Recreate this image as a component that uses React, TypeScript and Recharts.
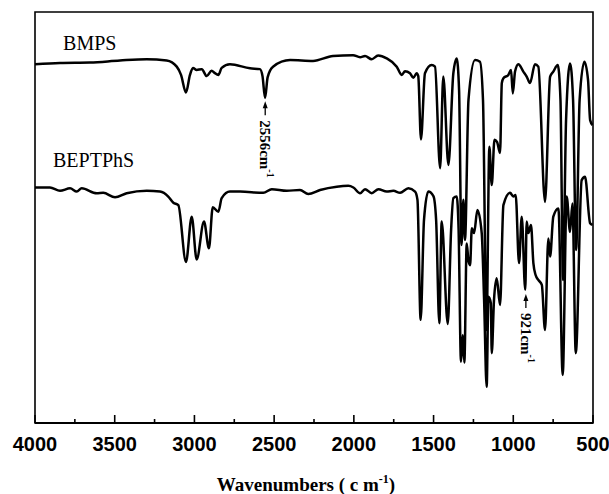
import { Label, Line, LineChart, ReferenceArea, ReferenceDot, XAxis, YAxis } from "recharts";

// wavenumber (cm-1) and transmittance (a.u.)
const bmpsWn = [
  4000, 3843, 3655, 3467, 3299, 3174, 3111, 3084, 3053, 3028, 3009, 2986, 2954, 2923, 2892, 2874,
  2850, 2829, 2777, 2651, 2589, 2573, 2557, 2541, 2507, 2400, 2256, 2131, 2005, 1961, 1930, 1888,
  1848, 1794, 1731, 1700, 1679, 1648, 1627, 1606, 1596, 1579, 1554, 1512, 1491, 1459, 1439, 1407,
  1376, 1355, 1340, 1325, 1313, 1303, 1281, 1240, 1209, 1190, 1168, 1150, 1135, 1118, 1102, 1083,
  1072, 1062, 1031, 1014, 1003, 989, 968, 937, 916, 895, 864, 843, 801, 769, 749, 721, 704, 688,
  669, 644, 625, 606, 584, 554, 531, 518, 503,
];
const bmpsT = [
  87.3, 87.6, 87.7, 88.2, 88.5, 88.2, 86.7, 84.7, 80.4, 84.7, 86.4, 85.9, 86.1, 84.4, 85.7, 85.2,
  84.7, 86.4, 87.3, 86.3, 86.1, 84.4, 79.1, 84.1, 86.7, 88.3, 88.1, 89.3, 89.5, 89.0, 89.3, 88.5,
  89.4, 88.7, 86.7, 84.7, 85.6, 85.1, 84.0, 85.1, 84.4, 69.0, 85.1, 87.1, 86.7, 62.0, 84.3, 62.8,
  85.1, 88.7, 81.0, 43.3, 54.3, 44.5, 78.6, 88.3, 87.9, 78.6, 22.6, 67.2, 57.9, 68.9, 68.4, 65.7,
  82.7, 83.9, 84.7, 85.9, 80.2, 85.5, 87.3, 85.5, 84.3, 82.7, 87.3, 86.7, 53.8, 84.3, 85.5, 87.1,
  78.6, 34.8, 73.7, 87.5, 78.6, 42.1, 78.6, 87.9, 83.4, 73.7, 72.5,
];

const beptWn = [
  4000, 3906, 3843, 3780, 3738, 3707, 3613, 3572, 3498, 3425, 3299, 3216, 3164, 3132, 3101, 3053,
  3017, 2986, 2940, 2909, 2885, 2850, 2829, 2777, 2714, 2568, 2515, 2421, 2338, 2286, 2212, 2107,
  2035, 2003, 1961, 1930, 1888, 1846, 1794, 1752, 1710, 1658, 1616, 1601, 1581, 1560, 1533, 1501,
  1484, 1464, 1449, 1411, 1390, 1376, 1355, 1343, 1328, 1317, 1307, 1292, 1282, 1271, 1260, 1246,
  1225, 1198, 1183, 1167, 1156, 1141, 1135, 1121, 1104, 1083, 1062, 1020, 1000, 985, 964, 947, 925,
  916, 905, 889, 874, 860, 843, 821, 801, 780, 769, 749, 717, 690, 665, 644, 629, 608, 571, 550,
  518, 503,
];
const beptT = [
  57.3, 57.3, 56.5, 57.1, 56.3, 57.1, 55.9, 56.0, 54.9, 55.9, 56.5, 56.3, 55.1, 53.6, 53.0, 39.2,
  50.2, 39.8, 49.0, 42.5, 52.5, 51.4, 54.7, 56.3, 56.3, 56.0, 56.9, 56.5, 56.7, 55.7, 56.7, 57.5,
  57.7, 57.3, 55.9, 56.9, 55.9, 56.9, 56.3, 56.5, 56.0, 57.1, 56.3, 54.3, 25.1, 49.4, 56.3, 55.2,
  49.4, 24.3, 49.0, 24.1, 47.0, 54.7, 55.1, 47.0, 14.9, 21.4, 14.7, 43.7, 39.7, 38.4, 47.4, 46.2,
  51.8, 46.2, 29.9, 8.8, 30.7, 29.2, 17.0, 29.9, 35.2, 28.7, 53.0, 56.0, 55.1, 55.5, 38.9, 50.2, 32.4,
  49.0, 46.2, 48.2, 38.9, 36.0, 34.8, 33.6, 22.6, 44.9, 40.5, 50.2, 52.2, 11.7, 55.1, 46.5, 53.4, 17.0,
  59.1, 59.9, 48.6, 48.2,
];

const xTicks = [4000, 3750, 3500, 3250, 3000, 2750, 2500, 2250, 2000, 1750, 1500, 1250, 1000, 750, 500];

const bmps = bmpsWn.map((wn, i) => ({ wn, t: bmpsT[i] }));
const bept = beptWn.map((wn, i) => ({ wn, t: beptT[i] }));

const serif = "'Liberation Serif', 'Times New Roman', serif";
const sans = "'Liberation Sans', Arial, sans-serif";

function AxisTick(props: any) {
  const { x, y, payload } = props;
  const major = payload.value % 500 === 0;
  return (
    <g>
      <line x1={x} x2={x} y1={y} y2={y - (major ? 8 : 4)} stroke="#000" strokeWidth={1.6} />
      {major ? (
        <text x={x} y={y + 28} textAnchor="middle" fontFamily={sans} fontWeight="bold" fontSize={20} fill="#000">
          {payload.value}
        </text>
      ) : null}
    </g>
  );
}

function PeakMark({ cx, cy, label }: { cx: number; cy: number; label: string }) {
  return (
    <g>
      <polygon points={`${cx},${cy} ${cx - 2.5},${cy + 7} ${cx + 2.5},${cy + 7}`} fill="#000" />
      <line x1={cx} x2={cx} y1={cy + 5} y2={cy + 14} stroke="#000" strokeWidth={1.3} />
      <text
        transform={`translate(${cx},${cy + 19}) rotate(90)`}
        dominantBaseline="central"
        fontFamily={serif}
        fontWeight="bold"
        fontSize={15}
        fill="#000"
      >
        {label}
        <tspan fontSize={10} dy={-6}>-1</tspan>
      </text>
    </g>
  );
}

function SeriesName({ cx, cy, text }: { cx: number; cy: number; text: string }) {
  return (
    <text x={cx} y={cy} fontFamily={serif} fontSize={20} fill="#000">
      {text}
    </text>
  );
}

function Title(props: any) {
  const { viewBox } = props;
  const cx = viewBox.x + viewBox.width / 2 - 8;
  return (
    <text x={cx} y={viewBox.y + 68} textAnchor="middle" fontFamily={serif} fontWeight="bold" fontSize={19} fill="#000">
      Wavenumbers ( c m<tspan fontSize={12} dy={-8}>-1</tspan>
      <tspan dy={8}>)</tspan>
    </text>
  );
}

export default function App() {
  return (
    <div style={{ position: "absolute", left: 0, top: 0, width: 609, height: 494, background: "#fff" }}>
      <LineChart width={609} height={494} margin={{ top: 12, right: 16, bottom: 31, left: 35 }}>
        <XAxis
          type="number"
          dataKey="wn"
          domain={[500, 4000]}
          reversed
          ticks={xTicks}
          interval={0}
          height={40}
          tickSize={0}
          tickMargin={0}
          tick={<AxisTick />}
          axisLine={{ stroke: "#000", strokeWidth: 2 }}
          allowDataOverflow
        >
          <Label content={<Title />} />
        </XAxis>
        <YAxis type="number" domain={[0, 100]} hide allowDataOverflow />
        <ReferenceArea x1={4000} x2={500} y1={0} y2={100} fill="none" stroke="#000" strokeWidth={1.6} />
        <Line
          data={bmps}
          dataKey="t"
          type="monotone"
          stroke="#000"
          strokeWidth={2.5}
          dot={false}
          isAnimationActive={false}
        />
        <Line
          data={bept}
          dataKey="t"
          type="monotone"
          stroke="#000"
          strokeWidth={2.5}
          dot={false}
          isAnimationActive={false}
        />
        <ReferenceDot x={3824} y={90.8} r={0} shape={(p: any) => <SeriesName cx={p.cx} cy={p.cy} text="BMPS" />} />
        <ReferenceDot x={3887} y={62.3} r={0} shape={(p: any) => <SeriesName cx={p.cx} cy={p.cy} text="BEPTPhS" />} />
        <ReferenceDot x={2556} y={78.3} r={0} shape={(p: any) => <PeakMark cx={p.cx} cy={p.cy} label="2556cm" />} />
        <ReferenceDot x={921} y={31.4} r={0} shape={(p: any) => <PeakMark cx={p.cx} cy={p.cy} label="921cm" />} />
      </LineChart>
    </div>
  );
}
